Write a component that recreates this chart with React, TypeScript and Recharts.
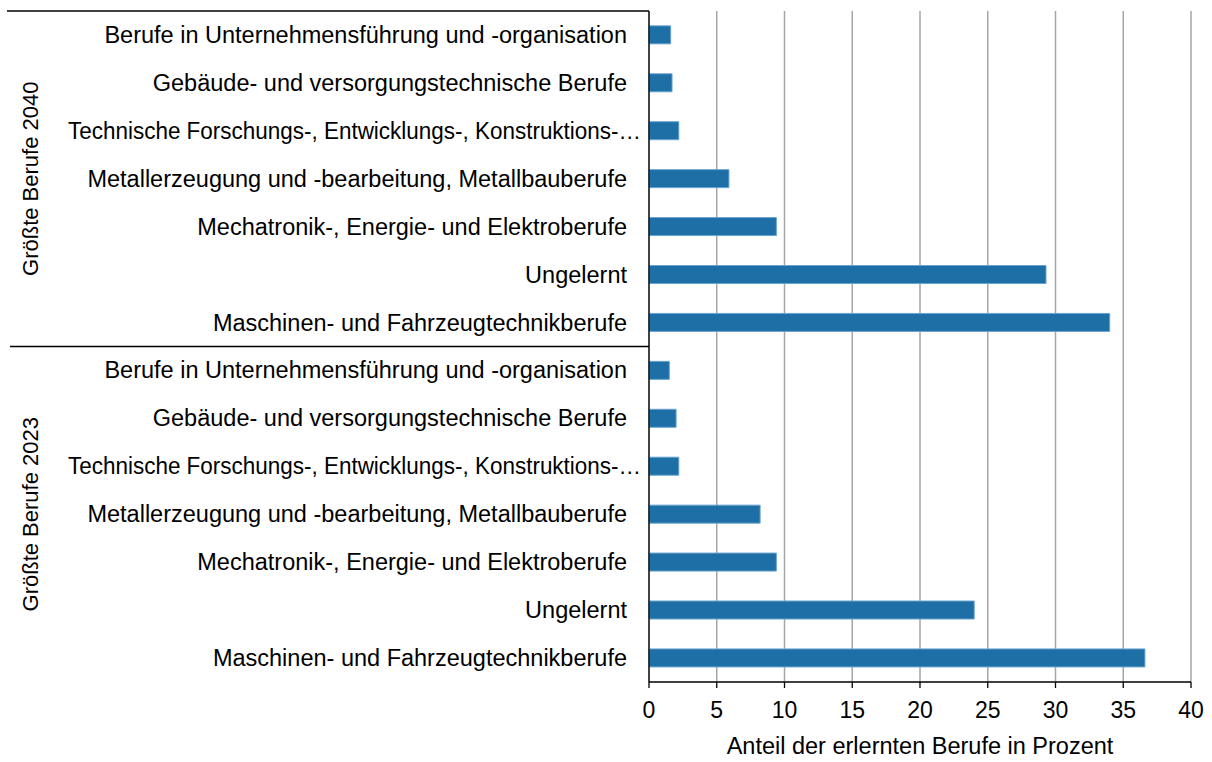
import { Bar, BarChart, CartesianGrid, XAxis, YAxis } from 'recharts';

const occupations = [
  'Berufe in Unternehmensführung und -organisation',
  'Gebäude- und versorgungstechnische Berufe',
  'Technische Forschungs-, Entwicklungs-, Konstruktions-…',
  'Metallerzeugung und -bearbeitung, Metallbauberufe',
  'Mechatronik-, Energie- und Elektroberufe',
  'Ungelernt',
  'Maschinen- und Fahrzeugtechnikberufe',
];

const groups = ['Größte Berufe 2040', 'Größte Berufe 2023'];

const share2040 = [1.6, 1.7, 2.2, 5.9, 9.4, 29.3, 34.0];
const share2023 = [1.5, 2.0, 2.2, 8.2, 9.4, 24.0, 36.6];

const xTicks = [0, 5, 10, 15, 20, 25, 30, 35, 40];

const rows = [
  ...occupations.map((label, i) => ({ id: `2040-${i}`, label, group: 0, value: share2040[i] })),
  ...occupations.map((label, i) => ({ id: `2023-${i}`, label, group: 1, value: share2023[i] })),
];

const FONT = '"Liberation Sans", Arial, sans-serif';
const WIDTH = 1212;
const HEIGHT = 762;

function CategoryTick(props: any) {
  const { x, y, payload, index, height, visibleTicksCount } = props;
  const row = rows.find((r) => r.id === payload.value);
  const band = height / visibleTicksCount;
  const perGroup = occupations.length;
  const isFirst = index % perGroup === 0;
  const isMiddle = index % perGroup === Math.floor(perGroup / 2);
  const groupCenter = y + (perGroup % 2 === 0 ? band / 2 : 0);
  // the truncated label runs a little past the others, like the original
  const truncated = row ? row.label.endsWith('…') : false;
  return (
    <g>
      {isFirst && (
        <line x1={index === 0 ? 7 : 10} x2={x + 22} y1={y - band / 2} y2={y - band / 2} stroke="#000" strokeWidth={1.3} />
      )}
      {isMiddle && row && (
        <text
          x={30}
          y={groupCenter}
          transform={`rotate(-90, 30, ${groupCenter})`}
          textAnchor="middle"
          dominantBaseline="central"
          fontSize={22}
          fontFamily={FONT}
          fill="#000"
        >
          {groups[row.group]}
        </text>
      )}
      <text
        x={truncated ? x + 14 : x}
        y={y}
        textAnchor="end"
        dominantBaseline="central"
        fontSize={23.5}
        fontFamily={FONT}
        fill="#000"
        textLength={truncated ? 573 : undefined}
        lengthAdjust={truncated ? 'spacingAndGlyphs' : undefined}
      >
        {row ? row.label : ''}
      </text>
    </g>
  );
}

export default function App() {
  return (
    <div style={{ position: 'absolute', left: 0, top: 0, width: WIDTH, height: HEIGHT, background: '#fff' }}>
      <BarChart
        width={WIDTH}
        height={HEIGHT}
        data={rows}
        layout="vertical"
        margin={{ top: 11, right: 21, bottom: 0, left: 0 }}
        barCategoryGap="31%"
      >
        <CartesianGrid horizontal={false} stroke="#a6a6a6" strokeWidth={1.5} />
        <XAxis
          type="number"
          domain={[0, 40]}
          ticks={xTicks}
          interval={0}
          height={80}
          tickSize={6}
          tickMargin={14}
          axisLine={{ stroke: '#000', strokeWidth: 1.3 }}
          tickLine={{ stroke: '#000', strokeWidth: 1.3 }}
          tick={{ fontSize: 23, fontFamily: FONT, fill: '#000' }}
          label={{
            value: 'Anteil der erlernten Berufe in Prozent',
            position: 'insideBottom',
            offset: 8,
            fontSize: 23.5,
            fontFamily: FONT,
            fill: '#000',
          }}
        />
        <YAxis
          type="category"
          dataKey="id"
          width={649}
          interval={0}
          tickSize={0}
          tickMargin={22}
          tickLine={false}
          axisLine={{ stroke: '#000', strokeWidth: 1.3 }}
          tick={<CategoryTick />}
        />
        <Bar dataKey="value" fill="#1d6fa5" stroke="#6aa3d0" strokeWidth={1} isAnimationActive={false} />
      </BarChart>
    </div>
  );
}
